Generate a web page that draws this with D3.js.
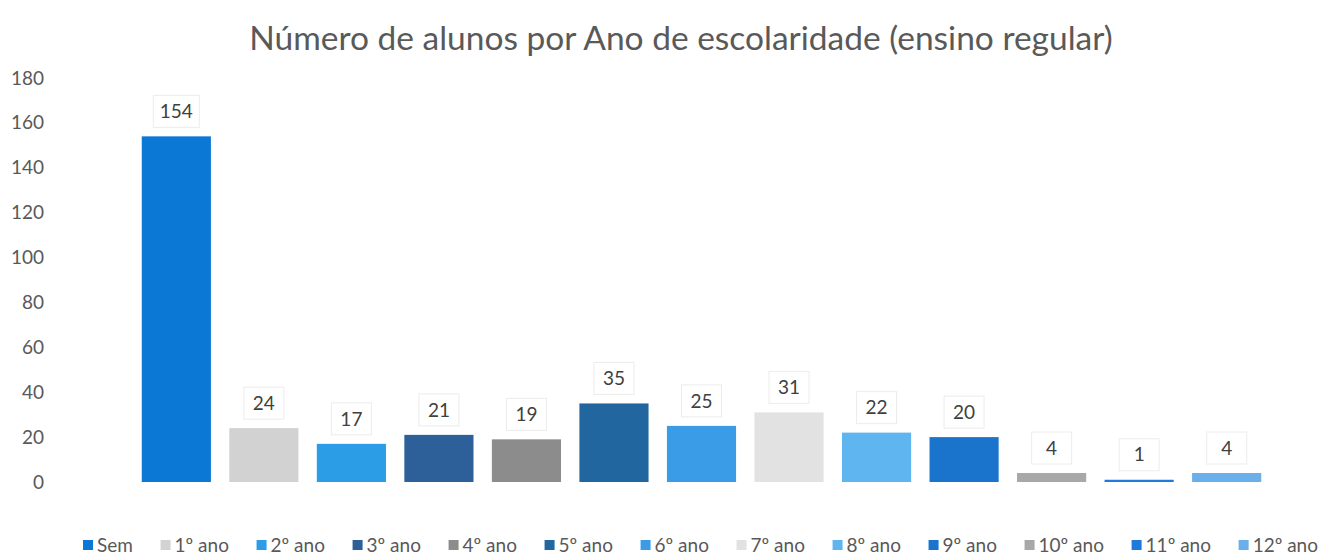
<!DOCTYPE html>
<html>
<head>
<meta charset="utf-8">
<script src="https://cdn.jsdelivr.net/npm/d3@7"></script>
<style>
  body { margin: 0; background: #fff; }
  text { font-family: Lato, "Noto Sans", sans-serif; }
</style>
</head>
<body>
<div id="okvir"></div>
<script>
// podaci
const kategorije = ["Sem", "1º ano", "2º ano", "3º ano", "4º ano", "5º ano", "6º ano",
  "7º ano", "8º ano", "9º ano", "10º ano", "11º ano", "12º ano"]
const vrijednosti = [154, 24, 17, 21, 19, 35, 25, 31, 22, 20, 4, 1, 4]
const boje = ["#0b78d6", "#d2d2d2", "#2b9de6", "#2d5f98", "#8c8c8c", "#22669f", "#3a9be6",
  "#e2e2e2", "#5eb5f0", "#1b74cc", "#a8a8a8", "#1f7ad9", "#6aaeea"]
const yTikovi = [0, 20, 40, 60, 80, 100, 120, 140, 160, 180]
const naslov = "Número de alunos por Ano de escolaridade (ensino regular)"

function crtaj() {
  const dim = { sirina: 1329, visina: 560 }

  const svg = d3.select("#okvir").append("svg")
      .attr("width", dim.sirina)
      .attr("height", dim.visina)

  const xSkala = d3.scaleBand()
    .domain(kategorije)
    .range([133, 1270])
    .paddingInner(0.21)
    .paddingOuter(0.1)

  const ySkala = d3.scaleLinear()
    .domain([0, 180])
    .range([482, 78])

  // naslov
  svg.append("text")
      .attr("x", 681)
      .attr("y", 50)
      .attr("text-anchor", "middle")
      .attr("fill", "#595959")
      .style("font-size", "33.5px")
      .text(naslov)

  // y os
  const yOs = svg.append("g")
      .attr("transform", "translate(44,0)")
      .call(d3.axisLeft(ySkala).tickValues(yTikovi).tickSize(0).tickPadding(0))
  yOs.select(".domain").remove()
  yOs.selectAll("text")
      .attr("fill", "#595959")
      .style("font-size", "19px")

  // stupci
  svg.selectAll("rect.stupac")
    .data(vrijednosti)
    .join("rect")
      .attr("class", "stupac")
      .attr("x", (d, i) => xSkala(kategorije[i]))
      .attr("y", d => ySkala(d))
      .attr("width", xSkala.bandwidth())
      .attr("height", d => Math.max(ySkala(0) - ySkala(d), 2))
      .attr("fill", (d, i) => boje[i])

  // oznake vrijednosti
  const oznake = svg.selectAll("g.oznaka")
    .data(vrijednosti)
    .join("g")
      .attr("class", "oznaka")
      .attr("transform", (d, i) =>
        `translate(${xSkala(kategorije[i]) + xSkala.bandwidth() / 2},${ySkala(d) - 25})`)
  oznake.append("rect")
      .attr("x", d => String(d).length > 2 ? -23 : -20)
      .attr("y", -16)
      .attr("width", d => String(d).length > 2 ? 46 : 40)
      .attr("height", 32)
      .attr("fill", "#fff")
      .attr("stroke", "#ececec")
  oznake.append("text")
      .attr("text-anchor", "middle")
      .attr("dy", "0.35em")
      .attr("fill", "#404040")
      .style("font-size", "19px")
      .text(d => d)

  // legenda
  const legenda = svg.append("g")
  const stavke = legenda.selectAll("g")
    .data(kategorije)
    .join("g")
  stavke.append("rect")
      .attr("y", -5)
      .attr("width", 10)
      .attr("height", 10)
      .attr("fill", (d, i) => boje[i])
  stavke.append("text")
      .attr("x", 14)
      .attr("dy", "0.35em")
      .attr("fill", "#595959")
      .style("font-size", "19px")
      .text(d => d)
  const sirine = []
  stavke.each(function () { sirine.push(this.getBBox().width) })
  const ukupno = d3.sum(sirine)
  const razmak = (1318 - 83 - ukupno) / (kategorije.length - 1)
  let pomak = 83
  stavke.attr("transform", (d, i) => {
    const x = pomak
    pomak += sirine[i] + razmak
    return `translate(${x},545)`
  })
}
crtaj()
</script>
</body>
</html>
